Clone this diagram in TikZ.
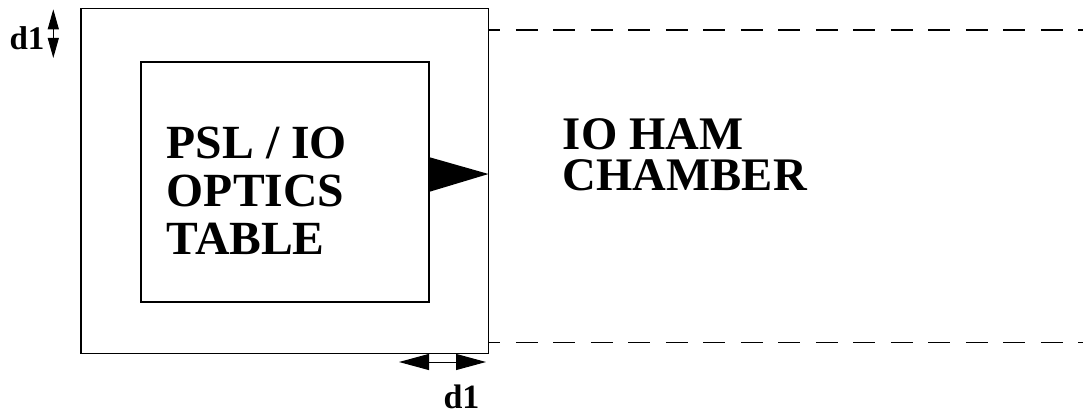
\documentclass[tikz,border=0pt]{standalone}
\usepackage{fontspec}
\setmainfont{Liberation Serif}
\usetikzlibrary{arrows.meta}
\begin{document}
\begin{tikzpicture}[x=1pt,y=-1pt,
  box/.style={draw=black,line width=1.5pt,inner sep=0pt,fill=none},
  chamberline/.style={line width=1.5pt,dash pattern=on 22pt off 15.5pt,dash phase=11pt},
  bigtext/.style={font=\bfseries\fontsize{47.6}{48}\selectfont,align=left,inner sep=0pt,anchor=base west},
  dimtext/.style={font=\bfseries\fontsize{33}{36}\selectfont,inner sep=0pt,anchor=base west},
  dimarrow/.style={line width=1pt},
]
\useasboundingbox (0,0) rectangle (1083,412);
% boxes
\node[box,minimum width=407.5pt,minimum height=345pt] (outer) at (284.75,181.2) {};
\node[box,minimum width=288pt,minimum height=240pt] (inner) at (285,182) {};
% chamber dashed lines
\coordinate (dtopE) at (1083,30);
\coordinate (dbotE) at (1083,342.7);
\draw[chamberline] (outer.east |- dtopE) -- (dtopE);
\draw[chamberline] (outer.east |- dbotE) -- (dbotE);
% beam triangle
\coordinate (tipT) at (488.5,174);
\fill[black] (inner.east |- 0,157.3) -- (tipT) -- (inner.east |- 0,191.7) -- cycle;
% texts
\node[bigtext] (psl) at (166.7,254.3) {PSL / IO\\OPTICS\\TABLE};
\node[bigtext,font=\bfseries\fontsize{46.7}{40.7}\selectfont] (ham) at (562.7,190) {IO HAM\\CHAMBER};
% dimension arrows
\coordinate (va) at (53.3,9.3);
\coordinate (vb) at (53.3,58);
\draw[dimarrow,{Triangle[length=20pt,width=11pt]}-{Triangle[length=20pt,width=11pt]}] (va) -- (vb);
\node[dimtext] (d1a) at (9.3,49.3) {d1};
\coordinate (ha) at (399,362);
\coordinate (hb) at (486,362);
\draw[dimarrow,{Triangle[length=30pt,width=16pt]}-{Triangle[length=30pt,width=16pt]}] (ha) -- (hb);
\node[dimtext,font=\bfseries\fontsize{34}{36}\selectfont] (d1b) at (443.3,408.8) {d1};
\end{tikzpicture}
\end{document}
